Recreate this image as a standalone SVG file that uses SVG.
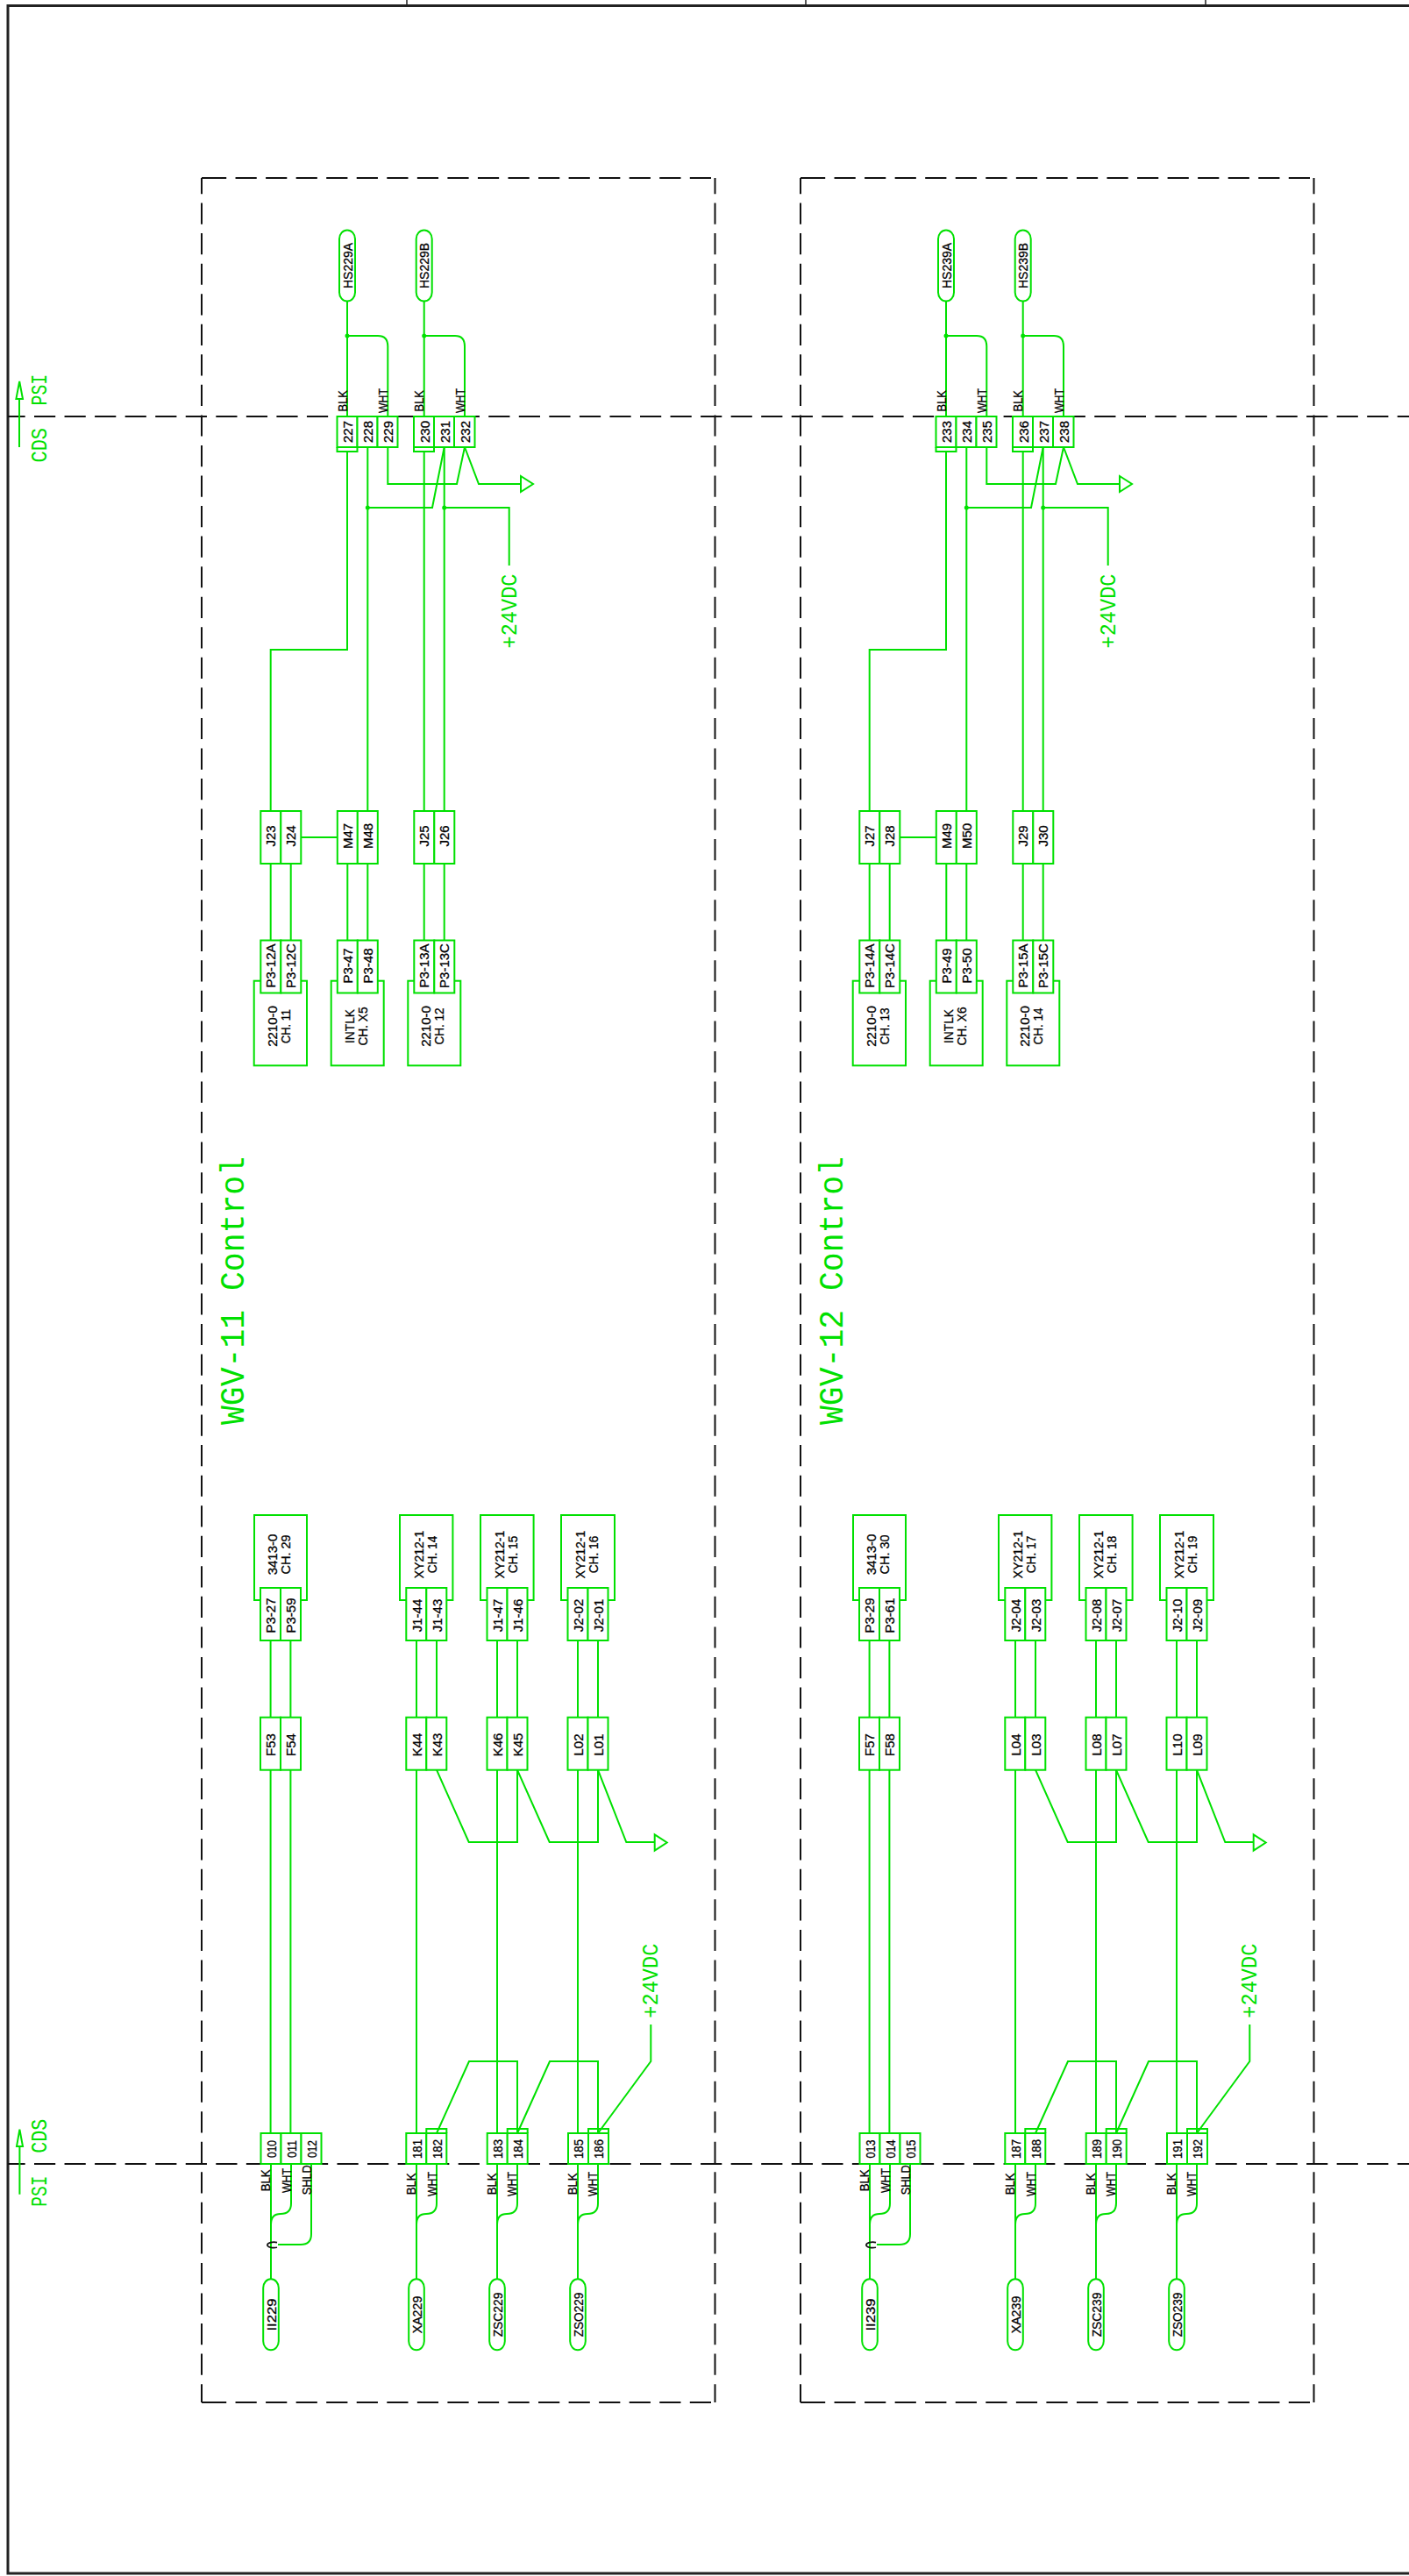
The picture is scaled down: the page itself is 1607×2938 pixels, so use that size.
<svg xmlns="http://www.w3.org/2000/svg" width="1607" height="2938" viewBox="0 0 1607 2938">
<style>
.b{fill:#fff;stroke:#00e000;stroke-width:2}
.n{fill:none;stroke:#00e000;stroke-width:2}
.w{fill:none;stroke:#00e000;stroke-width:2;stroke-linejoin:miter}
.j{fill:#00e000;stroke:none}
.d{fill:none;stroke:#111;stroke-width:2;stroke-dasharray:24.2 10.35}
.f{fill:none;stroke:#222;stroke-width:3}
.k{fill:none;stroke:#222;stroke-width:1.5}
.c{fill:none;stroke:#111;stroke-width:1.6}
text{font-family:"Liberation Sans",Arial,sans-serif;font-size:15px;fill:#000;stroke:#000;stroke-width:.3;text-anchor:middle}
text.s{text-anchor:start}
text.g{font-family:"Liberation Mono","Courier New",monospace;font-size:25px;fill:#00e000;stroke:none;text-anchor:start}
text.h{font-size:39px}
</style>
<defs>
<g id="wires">
<path class="w" d="M396,344V475M396,383H431Q442.3,383 442.3,395V475M483.7,344V475M483.7,383H519Q530,383 530,395V475"/>
<path class="w" d="M396,515V741H308.7V925M419.3,510V925M483.7,515V925M506.7,510V925"/>
<path class="w" d="M442.3,510V552H521L530,510L546,552H594"/>
<path class="w" d="M419.3,579H493L506.7,510M506.7,579H580.7V645"/>
<path class="w" d="M343,955H384.8"/>
<path class="w" d="M308.7,985V1072.5M331.7,985V1072.5M396.3,985V1072.5M419.3,985V1072.5M483.7,985V1072.5M506.7,985V1072.5"/>
<path class="w" d="M308.6,1871V1958.7M331.4,1871V1958.7M475,1871V1958.7M498,1871V1958.7M567,1871V1958.7M590,1871V1958.7M659,1871V1958.7M682,1871V1958.7"/>
<path class="w" d="M308.6,2018.7V2433M331.4,2018.7V2433M475,2018.7V2433M567,2018.7V2433M659,2018.7V2433"/>
<path class="w" d="M498,2018.7L534.7,2101H590V2018.7M590,2018.7L626.7,2101H682V2018.7M682,2018.7L714.3,2101H746.7"/>
<path class="w" d="M498,2433L535,2351H590V2433M590,2433L627,2351H682V2433M682,2433L742.3,2351V2309"/>
<path class="w" d="M309,2468V2599M475,2468V2599M567,2468V2599M659,2468V2599"/>
<path class="w" d="M332,2468V2513Q332,2525 320,2525Q309,2525 309,2537M498,2468V2513Q498,2525 486,2525Q475,2525 475,2537M590,2468V2513Q590,2525 578,2525Q567,2525 567,2537M682,2468V2513Q682,2525 670,2525Q659,2525 659,2537"/>
<path class="w" d="M355,2468V2548Q355,2560 343,2560H317"/>
<path class="c" d="M316,2557.6A7.5,3.2 0 1 0 316,2563.2"/>
<circle class="j" cx="396" cy="383" r="2.5"/><circle class="j" cx="483.7" cy="383" r="2.5"/><circle class="j" cx="419.3" cy="579" r="2.5"/><circle class="j" cx="506.7" cy="579" r="2.5"/>
<polygon class="n" points="594,543 594,561 608,552"/>
<polygon class="n" points="746.7,2092.3 746.7,2110.7 760.7,2101.5"/>
</g>
<g id="boundary">
<path class="d" style="stroke-dashoffset:6" d="M230,203V2740"/>
<path class="d" style="stroke-dashoffset:6" d="M815.5,203V2740"/>
<path class="d" d="M234,203H815.5"/>
<path class="d" d="M234,2740H815.5"/>
<path class="c" style="stroke-width:2" d="M230,203H234M230,2740H234"/>
</g>
</defs>

<g id="frame">
<path class="f" d="M1607,6.5H9V2935H1607"/>
<path class="k" d="M464,0V6M919,0V6M1375,0V6"/>
</g>
<g id="boundaries">
<use href="#boundary"/>
<use href="#boundary" x="683"/>
</g>
<g id="interface-lines">
<path class="d" style="stroke-dashoffset:4.55" d="M9,475H1607"/>
<path class="d" style="stroke-dashoffset:4.55" d="M9,2468H1607"/>
</g>
<g id="side-labels">
<path class="n" d="M22,510V455M18.4,455H26L22.2,435Z"/>
<text class="g" transform="translate(53,527.5) rotate(-90)" textLength="39.5" lengthAdjust="spacingAndGlyphs">CDS</text>
<text class="g" transform="translate(53,462.4) rotate(-90)" textLength="35.5" lengthAdjust="spacingAndGlyphs">PSI</text>
<path class="n" d="M22.4,2502.7V2448M19,2448H26L22.4,2428.7Z"/>
<text class="g" transform="translate(53,2516.7) rotate(-90)" textLength="35" lengthAdjust="spacingAndGlyphs">PSI</text>
<text class="g" transform="translate(53,2455.7) rotate(-90)" textLength="39" lengthAdjust="spacingAndGlyphs">CDS</text>
</g>
<g id="connectors">
<use href="#wires"/>
<use href="#wires" x="683"/>
</g>

<g id="block-wgv-11">
<text class="g h" transform="translate(277.7,1625) rotate(-90)" textLength="306" lengthAdjust="spacingAndGlyphs">WGV-11 Control</text>
<text class="g" transform="translate(588.6,739.5) rotate(-90)" textLength="85" lengthAdjust="spacingAndGlyphs">+24VDC</text>
<text class="g" transform="translate(750,2301.7) rotate(-90)" textLength="85" lengthAdjust="spacingAndGlyphs">+24VDC</text>

<g id="HS229A"><rect class="b" x="387" y="262.5" width="18" height="81" rx="9" ry="10"/><text transform="translate(401.5,303) rotate(-90)" textLength="52" lengthAdjust="spacingAndGlyphs">HS229A</text></g>
<g id="HS229B"><rect class="b" x="474.7" y="262.5" width="18" height="81" rx="9" ry="10"/><text transform="translate(489.2,303) rotate(-90)" textLength="52" lengthAdjust="spacingAndGlyphs">HS229B</text></g>

<g id="T227"><rect class="b" x="384.5" y="475" width="23" height="35"/><path class="n" d="M384.5,510V515H407.5V510"/><text transform="translate(402,492.5) rotate(-90)">227</text><text class="s" transform="translate(395.5,469.5) rotate(-90)" textLength="24.5" lengthAdjust="spacingAndGlyphs">BLK</text></g>
<g id="T228"><rect class="b" x="407.5" y="475" width="23" height="35"/><text transform="translate(425,492.5) rotate(-90)">228</text></g>
<g id="T229"><rect class="b" x="430.5" y="475" width="23" height="35"/><text transform="translate(448,492.5) rotate(-90)">229</text><text class="s" transform="translate(441.7,471) rotate(-90)" textLength="28" lengthAdjust="spacingAndGlyphs">WHT</text></g>
<g id="T230"><rect class="b" x="472" y="475" width="23" height="35"/><path class="n" d="M472,510V515H495V510"/><text transform="translate(489.5,492.5) rotate(-90)">230</text><text class="s" transform="translate(483,469.5) rotate(-90)" textLength="24.5" lengthAdjust="spacingAndGlyphs">BLK</text></g>
<g id="T231"><rect class="b" x="495" y="475" width="23" height="35"/><text transform="translate(512.5,492.5) rotate(-90)">231</text></g>
<g id="T232"><rect class="b" x="518" y="475" width="23.5" height="35"/><text transform="translate(535.5,492.5) rotate(-90)">232</text><text class="s" transform="translate(529.5,471) rotate(-90)" textLength="28" lengthAdjust="spacingAndGlyphs">WHT</text></g>

<g id="J23"><rect class="b" x="297.3" y="925" width="23" height="60"/><text transform="translate(314.3,953.5) rotate(-90)">J23</text></g>
<g id="J24"><rect class="b" x="320.3" y="925" width="23" height="60"/><text transform="translate(337.3,953.5) rotate(-90)">J24</text></g>
<g id="M47"><rect class="b" x="384.8" y="925" width="23" height="60"/><text transform="translate(401.8,953.5) rotate(-90)">M47</text></g>
<g id="M48"><rect class="b" x="407.8" y="925" width="23" height="60"/><text transform="translate(424.8,953.5) rotate(-90)">M48</text></g>
<g id="J25"><rect class="b" x="472.3" y="925" width="23" height="60"/><text transform="translate(489.3,953.5) rotate(-90)">J25</text></g>
<g id="J26"><rect class="b" x="495.3" y="925" width="23" height="60"/><text transform="translate(512.3,953.5) rotate(-90)">J26</text></g>

<g id="M2210-11"><rect class="b" x="289.7" y="1118.7" width="60.3" height="96.6"/><text transform="translate(316,1170.5) rotate(-90)">2210-0</text><text transform="translate(331,1170.5) rotate(-90)" textLength="39" lengthAdjust="spacingAndGlyphs">CH. 11</text></g>
<g id="INTLK-X5"><rect class="b" x="377.7" y="1118.7" width="60" height="96.6"/><text transform="translate(404,1170.5) rotate(-90)" textLength="39" lengthAdjust="spacingAndGlyphs">INTLK</text><text transform="translate(418.5,1170.5) rotate(-90)" textLength="44" lengthAdjust="spacingAndGlyphs">CH. X5</text></g>
<g id="M2210-12"><rect class="b" x="465.3" y="1118.7" width="60" height="96.6"/><text transform="translate(491,1170.5) rotate(-90)">2210-0</text><text transform="translate(506,1170.5) rotate(-90)" textLength="42" lengthAdjust="spacingAndGlyphs">CH. 12</text></g>

<g id="P3-12A"><rect class="b" x="297.3" y="1072.5" width="23" height="60"/><text transform="translate(314.3,1101.5) rotate(-90)">P3-12A</text></g>
<g id="P3-12C"><rect class="b" x="320.3" y="1072.5" width="23" height="60"/><text transform="translate(337.3,1101.5) rotate(-90)">P3-12C</text></g>
<g id="P3-47"><rect class="b" x="384.8" y="1072.5" width="23" height="60"/><text transform="translate(401.8,1101.5) rotate(-90)">P3-47</text></g>
<g id="P3-48"><rect class="b" x="407.8" y="1072.5" width="23" height="60"/><text transform="translate(424.8,1101.5) rotate(-90)">P3-48</text></g>
<g id="P3-13A"><rect class="b" x="472.3" y="1072.5" width="23" height="60"/><text transform="translate(489.3,1101.5) rotate(-90)">P3-13A</text></g>
<g id="P3-13C"><rect class="b" x="495.3" y="1072.5" width="23" height="60"/><text transform="translate(512.3,1101.5) rotate(-90)">P3-13C</text></g>

<g id="M3413-29"><rect class="b" x="290" y="1728" width="60" height="97"/><text transform="translate(316.4,1773) rotate(-90)">3413-0</text><text transform="translate(331.4,1773) rotate(-90)" textLength="45" lengthAdjust="spacingAndGlyphs">CH. 29</text></g>
<g id="XY212-14"><rect class="b" x="456" y="1728" width="60.4" height="97"/><text transform="translate(482.5,1773) rotate(-90)" textLength="54.3" lengthAdjust="spacingAndGlyphs">XY212-1</text><text transform="translate(497.5,1773) rotate(-90)" textLength="42.7" lengthAdjust="spacingAndGlyphs">CH. 14</text></g>
<g id="XY212-15"><rect class="b" x="548" y="1728" width="60.6" height="97"/><text transform="translate(574.5,1773) rotate(-90)" textLength="54.3" lengthAdjust="spacingAndGlyphs">XY212-1</text><text transform="translate(589.5,1773) rotate(-90)" textLength="42.7" lengthAdjust="spacingAndGlyphs">CH. 15</text></g>
<g id="XY212-16"><rect class="b" x="640" y="1728" width="61" height="97"/><text transform="translate(666.5,1773) rotate(-90)" textLength="54.3" lengthAdjust="spacingAndGlyphs">XY212-1</text><text transform="translate(681.5,1773) rotate(-90)" textLength="42.7" lengthAdjust="spacingAndGlyphs">CH. 16</text></g>

<g id="P3-27"><rect class="b" x="297" y="1811" width="23" height="60"/><text transform="translate(314.3,1842.5) rotate(-90)">P3-27</text></g>
<g id="P3-59"><rect class="b" x="320" y="1811" width="23" height="60"/><text transform="translate(337.3,1842.5) rotate(-90)">P3-59</text></g>
<g id="J1-44"><rect class="b" x="463.3" y="1811" width="23" height="60"/><text transform="translate(480.8,1842.5) rotate(-90)">J1-44</text></g>
<g id="J1-43"><rect class="b" x="486.3" y="1811" width="23" height="60"/><text transform="translate(503.8,1842.5) rotate(-90)">J1-43</text></g>
<g id="J1-47"><rect class="b" x="555.5" y="1811" width="23" height="60"/><text transform="translate(573,1842.5) rotate(-90)">J1-47</text></g>
<g id="J1-46"><rect class="b" x="578.5" y="1811" width="23" height="60"/><text transform="translate(596,1842.5) rotate(-90)">J1-46</text></g>
<g id="J2-02"><rect class="b" x="647.5" y="1811" width="23" height="60"/><text transform="translate(665,1842.5) rotate(-90)">J2-02</text></g>
<g id="J2-01"><rect class="b" x="670.5" y="1811" width="23" height="60"/><text transform="translate(688,1842.5) rotate(-90)">J2-01</text></g>

<g id="F53"><rect class="b" x="297" y="1958.7" width="23" height="60"/><text transform="translate(314.3,1990) rotate(-90)">F53</text></g>
<g id="F54"><rect class="b" x="320" y="1958.7" width="23" height="60"/><text transform="translate(337.3,1990) rotate(-90)">F54</text></g>
<g id="K44"><rect class="b" x="463.3" y="1958.7" width="23" height="60"/><text transform="translate(480.8,1990) rotate(-90)">K44</text></g>
<g id="K43"><rect class="b" x="486.3" y="1958.7" width="23" height="60"/><text transform="translate(503.8,1990) rotate(-90)">K43</text></g>
<g id="K46"><rect class="b" x="555.5" y="1958.7" width="23" height="60"/><text transform="translate(573,1990) rotate(-90)">K46</text></g>
<g id="K45"><rect class="b" x="578.5" y="1958.7" width="23" height="60"/><text transform="translate(596,1990) rotate(-90)">K45</text></g>
<g id="L02"><rect class="b" x="647.5" y="1958.7" width="23" height="60"/><text transform="translate(665,1990) rotate(-90)">L02</text></g>
<g id="L01"><rect class="b" x="670.5" y="1958.7" width="23" height="60"/><text transform="translate(688,1990) rotate(-90)">L01</text></g>

<g id="T010"><rect class="b" x="297.5" y="2433" width="23" height="35"/><text transform="translate(314.5,2451) rotate(-90)" textLength="20" lengthAdjust="spacingAndGlyphs">010</text><text class="s" transform="translate(308.3,2499.3) rotate(-90)" textLength="25" lengthAdjust="spacingAndGlyphs">BLK</text></g>
<g id="T011"><rect class="b" x="320.5" y="2433" width="23" height="35"/><text transform="translate(337.5,2451) rotate(-90)" textLength="20" lengthAdjust="spacingAndGlyphs">011</text><text class="s" transform="translate(331.5,2501) rotate(-90)" textLength="28" lengthAdjust="spacingAndGlyphs">WHT</text></g>
<g id="T012"><rect class="b" x="343.5" y="2433" width="23" height="35"/><text transform="translate(360.5,2451) rotate(-90)" textLength="20" lengthAdjust="spacingAndGlyphs">012</text><text class="s" transform="translate(355,2503.3) rotate(-90)" textLength="34" lengthAdjust="spacingAndGlyphs">SHLD</text></g>
<g id="T181"><rect class="b" x="463.3" y="2433" width="23" height="35"/><text transform="translate(480.5,2451) rotate(-90)" textLength="22" lengthAdjust="spacingAndGlyphs">181</text><text class="s" transform="translate(474.3,2503.3) rotate(-90)" textLength="25" lengthAdjust="spacingAndGlyphs">BLK</text></g>
<g id="T182"><rect class="b" x="486.3" y="2433" width="23" height="35"/><path class="n" d="M486.3,2433V2428H509.3V2433"/><text transform="translate(503.5,2451) rotate(-90)" textLength="22" lengthAdjust="spacingAndGlyphs">182</text><text class="s" transform="translate(497.7,2505) rotate(-90)" textLength="28" lengthAdjust="spacingAndGlyphs">WHT</text></g>
<g id="T183"><rect class="b" x="555.7" y="2433" width="23" height="35"/><text transform="translate(572.7,2451) rotate(-90)" textLength="22" lengthAdjust="spacingAndGlyphs">183</text><text class="s" transform="translate(566.3,2503.3) rotate(-90)" textLength="25" lengthAdjust="spacingAndGlyphs">BLK</text></g>
<g id="T184"><rect class="b" x="578.7" y="2433" width="23" height="35"/><path class="n" d="M578.7,2433V2428H601.7V2433"/><text transform="translate(595.7,2451) rotate(-90)" textLength="22" lengthAdjust="spacingAndGlyphs">184</text><text class="s" transform="translate(589.3,2505) rotate(-90)" textLength="28" lengthAdjust="spacingAndGlyphs">WHT</text></g>
<g id="T185"><rect class="b" x="648" y="2433" width="23" height="35"/><text transform="translate(665,2451) rotate(-90)" textLength="22" lengthAdjust="spacingAndGlyphs">185</text><text class="s" transform="translate(658.3,2503.3) rotate(-90)" textLength="25" lengthAdjust="spacingAndGlyphs">BLK</text></g>
<g id="T186"><rect class="b" x="671" y="2433" width="23" height="35"/><path class="n" d="M671,2433V2428H694V2433"/><text transform="translate(688,2451) rotate(-90)" textLength="22" lengthAdjust="spacingAndGlyphs">186</text><text class="s" transform="translate(681.3,2505) rotate(-90)" textLength="28" lengthAdjust="spacingAndGlyphs">WHT</text></g>

<g id="II229"><rect class="b" x="300.2" y="2599.3" width="17.6" height="81" rx="8.8" ry="10"/><text transform="translate(314.5,2640) rotate(-90)" textLength="37" lengthAdjust="spacingAndGlyphs">II229</text></g>
<g id="XA229"><rect class="b" x="466.2" y="2599.3" width="17.6" height="81" rx="8.8" ry="10"/><text transform="translate(480.5,2640) rotate(-90)" textLength="42.7" lengthAdjust="spacingAndGlyphs">XA229</text></g>
<g id="ZSC229"><rect class="b" x="558.2" y="2599.3" width="17.6" height="81" rx="8.8" ry="10"/><text transform="translate(572.5,2640) rotate(-90)" textLength="50.7" lengthAdjust="spacingAndGlyphs">ZSC229</text></g>
<g id="ZSO229"><rect class="b" x="650.2" y="2599.3" width="17.6" height="81" rx="8.8" ry="10"/><text transform="translate(664.5,2640) rotate(-90)" textLength="50.7" lengthAdjust="spacingAndGlyphs">ZSO229</text></g>
</g>

<g id="block-wgv-12" transform="translate(683 0)">
<text class="g h" transform="translate(277.7,1625) rotate(-90)" textLength="306" lengthAdjust="spacingAndGlyphs">WGV-12 Control</text>
<text class="g" transform="translate(588.6,739.5) rotate(-90)" textLength="85" lengthAdjust="spacingAndGlyphs">+24VDC</text>
<text class="g" transform="translate(750,2301.7) rotate(-90)" textLength="85" lengthAdjust="spacingAndGlyphs">+24VDC</text>

<g id="HS239A"><rect class="b" x="387" y="262.5" width="18" height="81" rx="9" ry="10"/><text transform="translate(401.5,303) rotate(-90)" textLength="52" lengthAdjust="spacingAndGlyphs">HS239A</text></g>
<g id="HS239B"><rect class="b" x="474.7" y="262.5" width="18" height="81" rx="9" ry="10"/><text transform="translate(489.2,303) rotate(-90)" textLength="52" lengthAdjust="spacingAndGlyphs">HS239B</text></g>

<g id="T233"><rect class="b" x="384.5" y="475" width="23" height="35"/><path class="n" d="M384.5,510V515H407.5V510"/><text transform="translate(402,492.5) rotate(-90)">233</text><text class="s" transform="translate(395.5,469.5) rotate(-90)" textLength="24.5" lengthAdjust="spacingAndGlyphs">BLK</text></g>
<g id="T234"><rect class="b" x="407.5" y="475" width="23" height="35"/><text transform="translate(425,492.5) rotate(-90)">234</text></g>
<g id="T235"><rect class="b" x="430.5" y="475" width="23" height="35"/><text transform="translate(448,492.5) rotate(-90)">235</text><text class="s" transform="translate(441.7,471) rotate(-90)" textLength="28" lengthAdjust="spacingAndGlyphs">WHT</text></g>
<g id="T236"><rect class="b" x="472" y="475" width="23" height="35"/><path class="n" d="M472,510V515H495V510"/><text transform="translate(489.5,492.5) rotate(-90)">236</text><text class="s" transform="translate(483,469.5) rotate(-90)" textLength="24.5" lengthAdjust="spacingAndGlyphs">BLK</text></g>
<g id="T237"><rect class="b" x="495" y="475" width="23" height="35"/><text transform="translate(512.5,492.5) rotate(-90)">237</text></g>
<g id="T238"><rect class="b" x="518" y="475" width="23.5" height="35"/><text transform="translate(535.5,492.5) rotate(-90)">238</text><text class="s" transform="translate(529.5,471) rotate(-90)" textLength="28" lengthAdjust="spacingAndGlyphs">WHT</text></g>

<g id="J27"><rect class="b" x="297.3" y="925" width="23" height="60"/><text transform="translate(314.3,953.5) rotate(-90)">J27</text></g>
<g id="J28"><rect class="b" x="320.3" y="925" width="23" height="60"/><text transform="translate(337.3,953.5) rotate(-90)">J28</text></g>
<g id="M49"><rect class="b" x="384.8" y="925" width="23" height="60"/><text transform="translate(401.8,953.5) rotate(-90)">M49</text></g>
<g id="M50"><rect class="b" x="407.8" y="925" width="23" height="60"/><text transform="translate(424.8,953.5) rotate(-90)">M50</text></g>
<g id="J29"><rect class="b" x="472.3" y="925" width="23" height="60"/><text transform="translate(489.3,953.5) rotate(-90)">J29</text></g>
<g id="J30"><rect class="b" x="495.3" y="925" width="23" height="60"/><text transform="translate(512.3,953.5) rotate(-90)">J30</text></g>

<g id="M2210-13"><rect class="b" x="289.7" y="1118.7" width="60.3" height="96.6"/><text transform="translate(316,1170.5) rotate(-90)">2210-0</text><text transform="translate(331,1170.5) rotate(-90)" textLength="42" lengthAdjust="spacingAndGlyphs">CH. 13</text></g>
<g id="INTLK-X6"><rect class="b" x="377.7" y="1118.7" width="60" height="96.6"/><text transform="translate(404,1170.5) rotate(-90)" textLength="39" lengthAdjust="spacingAndGlyphs">INTLK</text><text transform="translate(418.5,1170.5) rotate(-90)" textLength="44" lengthAdjust="spacingAndGlyphs">CH. X6</text></g>
<g id="M2210-14"><rect class="b" x="465.3" y="1118.7" width="60" height="96.6"/><text transform="translate(491,1170.5) rotate(-90)">2210-0</text><text transform="translate(506,1170.5) rotate(-90)" textLength="42" lengthAdjust="spacingAndGlyphs">CH. 14</text></g>

<g id="P3-14A"><rect class="b" x="297.3" y="1072.5" width="23" height="60"/><text transform="translate(314.3,1101.5) rotate(-90)">P3-14A</text></g>
<g id="P3-14C"><rect class="b" x="320.3" y="1072.5" width="23" height="60"/><text transform="translate(337.3,1101.5) rotate(-90)">P3-14C</text></g>
<g id="P3-49"><rect class="b" x="384.8" y="1072.5" width="23" height="60"/><text transform="translate(401.8,1101.5) rotate(-90)">P3-49</text></g>
<g id="P3-50"><rect class="b" x="407.8" y="1072.5" width="23" height="60"/><text transform="translate(424.8,1101.5) rotate(-90)">P3-50</text></g>
<g id="P3-15A"><rect class="b" x="472.3" y="1072.5" width="23" height="60"/><text transform="translate(489.3,1101.5) rotate(-90)">P3-15A</text></g>
<g id="P3-15C"><rect class="b" x="495.3" y="1072.5" width="23" height="60"/><text transform="translate(512.3,1101.5) rotate(-90)">P3-15C</text></g>

<g id="M3413-30"><rect class="b" x="290" y="1728" width="60" height="97"/><text transform="translate(316.4,1773) rotate(-90)">3413-0</text><text transform="translate(331.4,1773) rotate(-90)" textLength="45" lengthAdjust="spacingAndGlyphs">CH. 30</text></g>
<g id="XY212-17"><rect class="b" x="456" y="1728" width="60.4" height="97"/><text transform="translate(482.5,1773) rotate(-90)" textLength="54.3" lengthAdjust="spacingAndGlyphs">XY212-1</text><text transform="translate(497.5,1773) rotate(-90)" textLength="42.7" lengthAdjust="spacingAndGlyphs">CH. 17</text></g>
<g id="XY212-18"><rect class="b" x="548" y="1728" width="60.6" height="97"/><text transform="translate(574.5,1773) rotate(-90)" textLength="54.3" lengthAdjust="spacingAndGlyphs">XY212-1</text><text transform="translate(589.5,1773) rotate(-90)" textLength="42.7" lengthAdjust="spacingAndGlyphs">CH. 18</text></g>
<g id="XY212-19"><rect class="b" x="640" y="1728" width="61" height="97"/><text transform="translate(666.5,1773) rotate(-90)" textLength="54.3" lengthAdjust="spacingAndGlyphs">XY212-1</text><text transform="translate(681.5,1773) rotate(-90)" textLength="42.7" lengthAdjust="spacingAndGlyphs">CH. 19</text></g>

<g id="P3-29"><rect class="b" x="297" y="1811" width="23" height="60"/><text transform="translate(314.3,1842.5) rotate(-90)">P3-29</text></g>
<g id="P3-61"><rect class="b" x="320" y="1811" width="23" height="60"/><text transform="translate(337.3,1842.5) rotate(-90)">P3-61</text></g>
<g id="J2-04"><rect class="b" x="463.3" y="1811" width="23" height="60"/><text transform="translate(480.8,1842.5) rotate(-90)">J2-04</text></g>
<g id="J2-03"><rect class="b" x="486.3" y="1811" width="23" height="60"/><text transform="translate(503.8,1842.5) rotate(-90)">J2-03</text></g>
<g id="J2-08"><rect class="b" x="555.5" y="1811" width="23" height="60"/><text transform="translate(573,1842.5) rotate(-90)">J2-08</text></g>
<g id="J2-07"><rect class="b" x="578.5" y="1811" width="23" height="60"/><text transform="translate(596,1842.5) rotate(-90)">J2-07</text></g>
<g id="J2-10"><rect class="b" x="647.5" y="1811" width="23" height="60"/><text transform="translate(665,1842.5) rotate(-90)">J2-10</text></g>
<g id="J2-09"><rect class="b" x="670.5" y="1811" width="23" height="60"/><text transform="translate(688,1842.5) rotate(-90)">J2-09</text></g>

<g id="F57"><rect class="b" x="297" y="1958.7" width="23" height="60"/><text transform="translate(314.3,1990) rotate(-90)">F57</text></g>
<g id="F58"><rect class="b" x="320" y="1958.7" width="23" height="60"/><text transform="translate(337.3,1990) rotate(-90)">F58</text></g>
<g id="L04"><rect class="b" x="463.3" y="1958.7" width="23" height="60"/><text transform="translate(480.8,1990) rotate(-90)">L04</text></g>
<g id="L03"><rect class="b" x="486.3" y="1958.7" width="23" height="60"/><text transform="translate(503.8,1990) rotate(-90)">L03</text></g>
<g id="L08"><rect class="b" x="555.5" y="1958.7" width="23" height="60"/><text transform="translate(573,1990) rotate(-90)">L08</text></g>
<g id="L07"><rect class="b" x="578.5" y="1958.7" width="23" height="60"/><text transform="translate(596,1990) rotate(-90)">L07</text></g>
<g id="L10"><rect class="b" x="647.5" y="1958.7" width="23" height="60"/><text transform="translate(665,1990) rotate(-90)">L10</text></g>
<g id="L09"><rect class="b" x="670.5" y="1958.7" width="23" height="60"/><text transform="translate(688,1990) rotate(-90)">L09</text></g>

<g id="T013"><rect class="b" x="297.5" y="2433" width="23" height="35"/><text transform="translate(314.5,2451) rotate(-90)" textLength="21" lengthAdjust="spacingAndGlyphs">013</text><text class="s" transform="translate(308.3,2499.3) rotate(-90)" textLength="25" lengthAdjust="spacingAndGlyphs">BLK</text></g>
<g id="T014"><rect class="b" x="320.5" y="2433" width="23" height="35"/><text transform="translate(337.5,2451) rotate(-90)" textLength="21" lengthAdjust="spacingAndGlyphs">014</text><text class="s" transform="translate(331.5,2501) rotate(-90)" textLength="28" lengthAdjust="spacingAndGlyphs">WHT</text></g>
<g id="T015"><rect class="b" x="343.5" y="2433" width="23" height="35"/><text transform="translate(360.5,2451) rotate(-90)" textLength="21" lengthAdjust="spacingAndGlyphs">015</text><text class="s" transform="translate(355,2503.3) rotate(-90)" textLength="34" lengthAdjust="spacingAndGlyphs">SHLD</text></g>
<g id="T187"><rect class="b" x="463.3" y="2433" width="23" height="35"/><text transform="translate(480.5,2451) rotate(-90)" textLength="22" lengthAdjust="spacingAndGlyphs">187</text><text class="s" transform="translate(474.3,2503.3) rotate(-90)" textLength="25" lengthAdjust="spacingAndGlyphs">BLK</text></g>
<g id="T188"><rect class="b" x="486.3" y="2433" width="23" height="35"/><path class="n" d="M486.3,2433V2428H509.3V2433"/><text transform="translate(503.5,2451) rotate(-90)" textLength="22" lengthAdjust="spacingAndGlyphs">188</text><text class="s" transform="translate(497.7,2505) rotate(-90)" textLength="28" lengthAdjust="spacingAndGlyphs">WHT</text></g>
<g id="T189"><rect class="b" x="555.7" y="2433" width="23" height="35"/><text transform="translate(572.7,2451) rotate(-90)" textLength="22" lengthAdjust="spacingAndGlyphs">189</text><text class="s" transform="translate(566.3,2503.3) rotate(-90)" textLength="25" lengthAdjust="spacingAndGlyphs">BLK</text></g>
<g id="T190"><rect class="b" x="578.7" y="2433" width="23" height="35"/><path class="n" d="M578.7,2433V2428H601.7V2433"/><text transform="translate(595.7,2451) rotate(-90)" textLength="22" lengthAdjust="spacingAndGlyphs">190</text><text class="s" transform="translate(589.3,2505) rotate(-90)" textLength="28" lengthAdjust="spacingAndGlyphs">WHT</text></g>
<g id="T191"><rect class="b" x="648" y="2433" width="23" height="35"/><text transform="translate(665,2451) rotate(-90)" textLength="22" lengthAdjust="spacingAndGlyphs">191</text><text class="s" transform="translate(658.3,2503.3) rotate(-90)" textLength="25" lengthAdjust="spacingAndGlyphs">BLK</text></g>
<g id="T192"><rect class="b" x="671" y="2433" width="23" height="35"/><path class="n" d="M671,2433V2428H694V2433"/><text transform="translate(688,2451) rotate(-90)" textLength="22" lengthAdjust="spacingAndGlyphs">192</text><text class="s" transform="translate(681.3,2505) rotate(-90)" textLength="28" lengthAdjust="spacingAndGlyphs">WHT</text></g>

<g id="II239"><rect class="b" x="300.2" y="2599.3" width="17.6" height="81" rx="8.8" ry="10"/><text transform="translate(314.5,2640) rotate(-90)" textLength="37" lengthAdjust="spacingAndGlyphs">II239</text></g>
<g id="XA239"><rect class="b" x="466.2" y="2599.3" width="17.6" height="81" rx="8.8" ry="10"/><text transform="translate(480.5,2640) rotate(-90)" textLength="42.7" lengthAdjust="spacingAndGlyphs">XA239</text></g>
<g id="ZSC239"><rect class="b" x="558.2" y="2599.3" width="17.6" height="81" rx="8.8" ry="10"/><text transform="translate(572.5,2640) rotate(-90)" textLength="50.7" lengthAdjust="spacingAndGlyphs">ZSC239</text></g>
<g id="ZSO239"><rect class="b" x="650.2" y="2599.3" width="17.6" height="81" rx="8.8" ry="10"/><text transform="translate(664.5,2640) rotate(-90)" textLength="50.7" lengthAdjust="spacingAndGlyphs">ZSO239</text></g>
</g>
</svg>
